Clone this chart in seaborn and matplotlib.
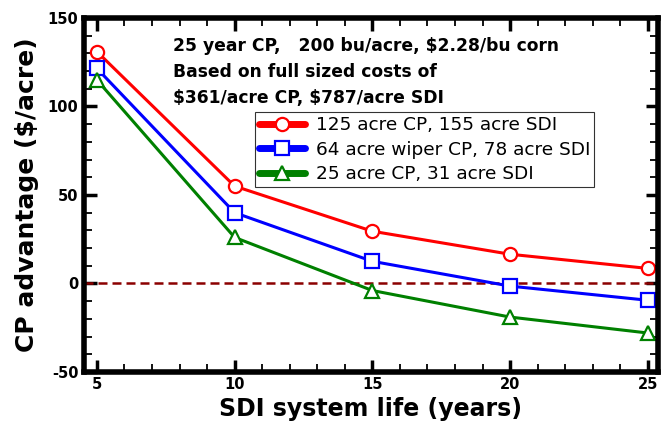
import numpy as np
import pandas as pd
import matplotlib
matplotlib.use("Agg")
import matplotlib.pyplot as plt
from matplotlib.ticker import MultipleLocator
import seaborn as sns

# Data
years = [5, 10, 15, 20, 25]
cp125 = [131, 55, 29.5, 16.5, 8.5]
cp64 = [121.5, 40, 12.5, -1.5, -9.5]
cp25 = [115, 26, -4, -19, -28]

labels = ['125 acre CP, 155 acre SDI', '64 acre wiper CP, 78 acre SDI', '25 acre CP, 31 acre SDI']
colors = ['#ff0000', '#0000ff', '#008000']
markers = ['o', 's', '^']

sns.set_style("white")
plt.rcParams['font.family'] = ['DejaVu Sans']
plt.rcParams['axes.unicode_minus'] = False
for k in ['text.color', 'axes.labelcolor', 'xtick.color', 'ytick.color']:
    plt.rcParams[k] = 'black'

fig = plt.figure(figsize=(6.61, 4.28), dpi=100)
ax = fig.add_axes([0.127, 0.131, 0.868, 0.827])

for vals, lab, c, m in zip([cp125, cp64, cp25], labels, colors, markers):
    sns.lineplot(x=years, y=vals, ax=ax, color=c, marker=m, label=lab,
                 linewidth=2.2, markersize=9.5, markerfacecolor='white',
                 markeredgecolor=c, markeredgewidth=1.6)

# zero reference line
ax.axhline(0, color='#8b0000', linestyle='--', linewidth=1.8, dashes=(3.6, 2), zorder=1)

ax.set_xlim(4.53, 25.36)
ax.set_ylim(-50, 150)
ax.xaxis.set_major_locator(MultipleLocator(5))
ax.xaxis.set_minor_locator(MultipleLocator(1))
ax.yaxis.set_major_locator(MultipleLocator(50))
ax.yaxis.set_minor_locator(MultipleLocator(10))
ax.tick_params(which='both', direction='in', top=True, right=True, bottom=True, left=True)
ax.tick_params(which='major', length=9, width=2.5)
ax.tick_params(which='minor', length=6, width=1.3)
ax.tick_params(axis='both', labelsize=10.5, pad=4)
for t in ax.get_xticklabels() + ax.get_yticklabels():
    t.set_fontweight('bold')

for s in ax.spines.values():
    s.set_linewidth(4)
    s.set_color('black')

ax.set_xlabel('SDI system life (years)', fontsize=17, fontweight='bold', labelpad=3)
ax.set_ylabel('CP advantage (\\$/acre)', fontsize=18, fontweight='bold', labelpad=6)

ax.text(0.155, 0.945, '25 year CP,   200 bu/acre, \\$2.28/bu corn\nBased on full sized costs of\n\\$361/acre CP, \\$787/acre SDI',
        transform=ax.transAxes, fontsize=12.3, fontweight='bold', va='top', ha='left',
        linespacing=1.55)

leg = ax.legend(loc='upper left', bbox_to_anchor=(0.298, 0.733), frameon=True,
                fancybox=False, edgecolor='black', fontsize=13.3,
                handlelength=2.5, borderpad=0.2, labelspacing=0.35, handletextpad=0.6,
                borderaxespad=0)
leg.get_frame().set_linewidth(0.8)
for h in leg.get_lines():
    h.set_linewidth(5)

fig.savefig('out.png', dpi=100)
